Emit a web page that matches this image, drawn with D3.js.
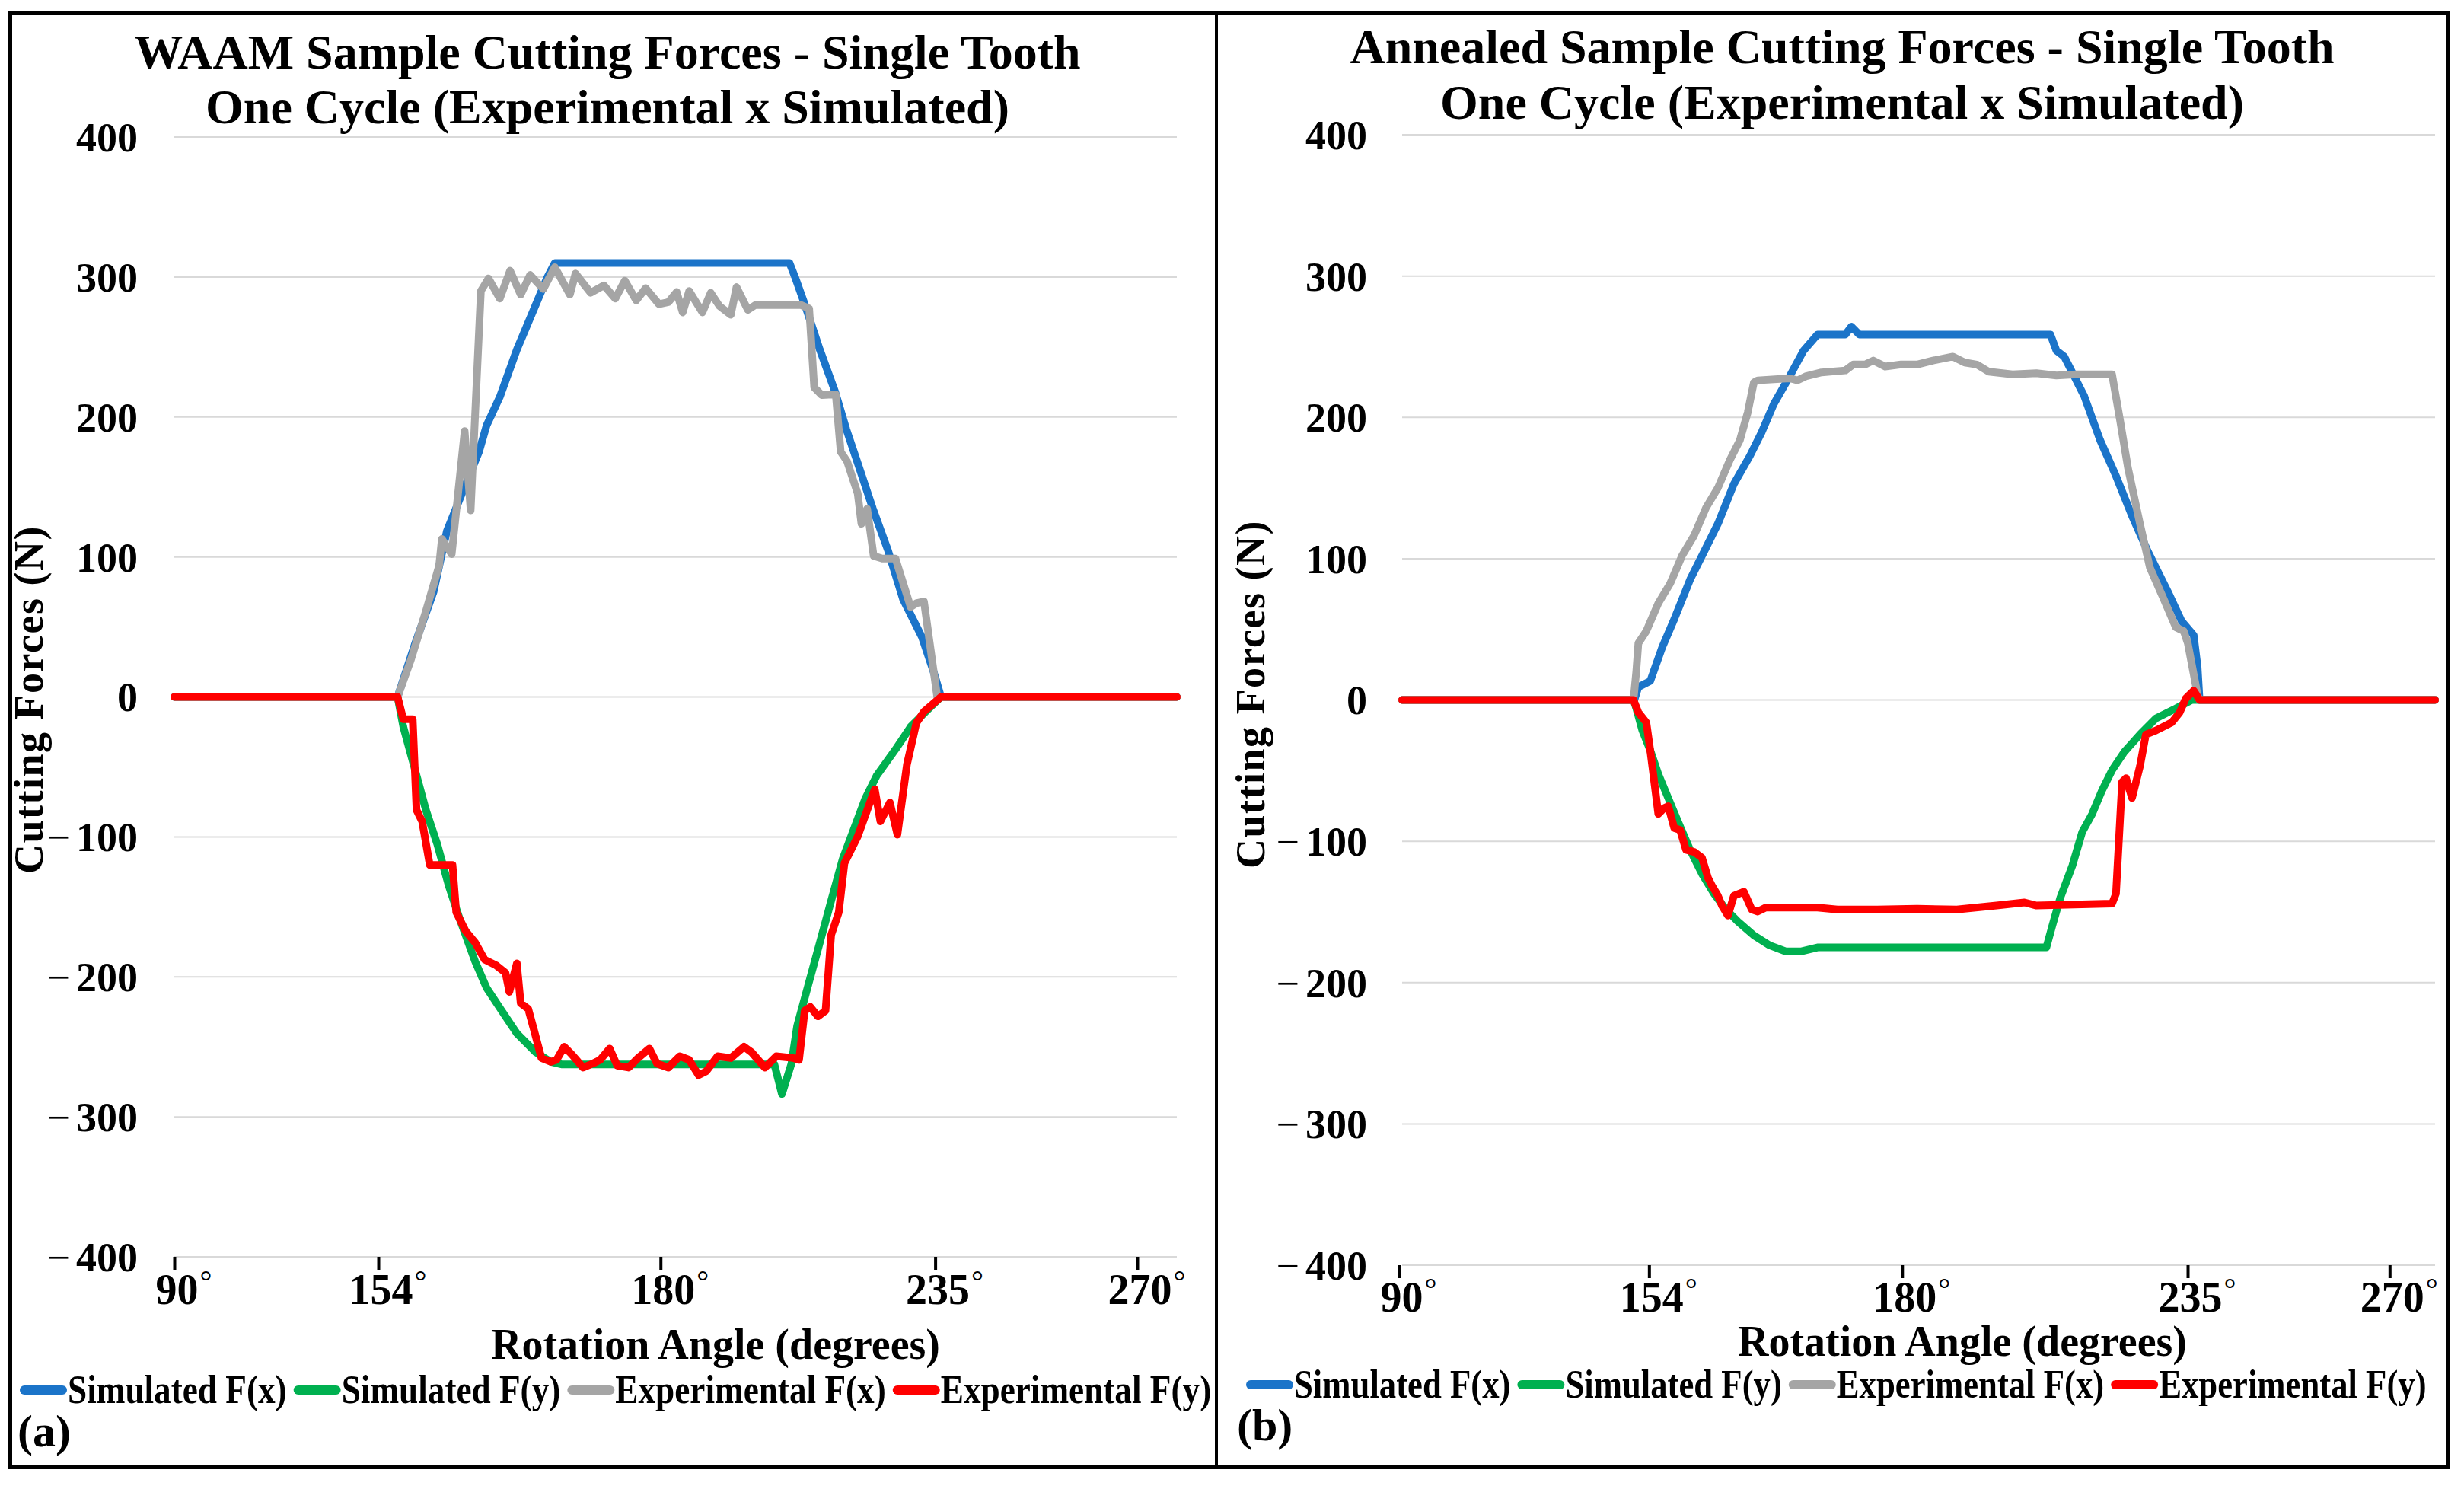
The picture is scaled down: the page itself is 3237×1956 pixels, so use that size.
<!DOCTYPE html>
<html>
<head>
<meta charset="utf-8">
<script src="https://cdn.jsdelivr.net/npm/d3@7"></script>
<style>
  html, body { margin: 0; padding: 0; background: #fff; }
  svg { display: block; font-family: "Liberation Serif", "Times New Roman", serif; font-weight: bold; }
</style>
</head>
<body>
<svg id="chart" width="3237" height="1956"></svg>
<script>
// ---- data (x = position along the sampled cycle, 0..100; y = force in N) ----
const yTicks = [-400, -300, -200, -100, 0, 100, 200, 300, 400];
const angleLabels = [90, 154, 180, 235, 270];
const angleTickPosA = [0, 20.35, 48.5, 75.9, 96.05];
const angleTickPosB = [-0.3, 23.9, 48.4, 76.05, 95.6];
const seriesNames = ["Simulated F(x)", "Simulated F(y)", "Experimental F(x)", "Experimental F(y)"];
const seriesColors = ["#1b74c9", "#00b050", "#a5a5a5", "#ff0000"];

// (a) WAAM sample
const simFxA = [[0,0],[22.27,0],[23.97,37.1],[25.86,75],[27.18,118.3],[28.69,145.3],[30.39,175.1],[31.15,194],
  [32.47,214.3],[34.17,248.1],[35.68,273.8],[37.19,299.5],[37.95,310],[61.37,310],[61.94,299.5],[62.88,280.6],
  [64.39,248.1],[65.9,218.4],[67.03,191.3],[68.17,167],[69.68,134.5],[71.19,104.7],[72.7,69.6],[74.59,42.5],
  [75.73,18.2],[76.48,0],[100,0]];
const simFyA = [[0,0],[22.27,0],[22.84,-21.3],[23.97,-51],[25.1,-80.8],[26.23,-105.2],[27.37,-134.9],[28.5,-159.3],
  [30.01,-189],[31.15,-207.9],[32.66,-224.2],[34.17,-240.4],[36.06,-253.9],[37.57,-260.7],[38.7,-262.6],
  [59.86,-262.6],[60.61,-283.7],[61.56,-262],[62.13,-235],[63.26,-205.2],[64.39,-175.5],[65.52,-145.7],
  [66.66,-116],[67.79,-94.3],[68.92,-72.7],[70.05,-56.4],[71.94,-37.5],[73.45,-21.3],[74.97,-10.5],[76.48,0],[100,0]];
const expFxA = [[0,0],[22.27,0],[23.59,26.3],[25.1,61.4],[26.42,93.9],[26.69,112.8],[27.67,102],[28.96,190],
  [29.56,133.2],[30.58,290],[31.34,299],[32.47,284.6],[33.49,304.5],[34.55,287.4],[35.49,301.5],[36.81,291.4],
  [37.95,307],[39.46,287.4],[40.02,302.5],[41.53,288.7],[42.86,294],[43.99,284.6],[44.94,297.4],[46.07,283.3],
  [47.02,292],[48.34,280.6],[49.28,282],[50.11,289.3],[50.71,274.7],[51.36,290],[52.68,274.7],[53.51,288.7],
  [54.38,279.2],[55.51,273],[56.08,292.8],[57.21,276.5],[57.97,280],[62.5,280],[63.33,277.4],[63.83,221.1],
  [64.58,215.7],[65.98,216.2],[66.47,175.1],[67.11,168.3],[68.17,145.3],[68.54,123.6],[69.11,134.5],
  [69.76,100.7],[70.62,98.8],[71.94,98.8],[73.45,64.2],[74.02,66.9],[74.78,68.2],[76.1,0],[100,0]];
const expFyA = [[0,0],[22.27,0],[22.84,-15.9],[23.78,-15.9],[24.16,-80.8],[24.72,-88.9],[25.48,-120],[27.75,-120],
  [28.12,-153.8],[29.07,-167.4],[30.01,-175.5],[30.96,-187.7],[32.09,-191.7],[33.04,-197.1],[33.42,-210.7],
  [34.17,-190.4],[34.55,-218.8],[35.3,-222.8],[35.87,-237.7],[36.62,-258],[37.57,-260.7],[38.13,-259.3],
  [38.89,-249.9],[39.64,-255.3],[40.78,-264.8],[41.72,-262],[42.48,-259.3],[43.42,-251.2],[44.18,-263.4],
  [45.31,-264.8],[46.26,-258],[47.39,-251.2],[48.15,-262],[49.28,-264.8],[50.41,-256.7],[51.36,-259.3],
  [52.3,-270.2],[53.06,-267.5],[54.19,-256.7],[55.51,-258],[56.83,-249.9],[57.59,-253.9],[58.91,-264.8],
  [60.05,-256.7],[61.75,-258],[62.32,-259.3],[62.88,-224.2],[63.45,-221.5],[64.2,-228.2],[64.96,-224.2],
  [65.52,-170.1],[66.28,-153.8],[66.85,-118.7],[68.17,-99.7],[69.87,-65.9],[70.43,-88.9],[71.38,-75.4],
  [72.13,-98.4],[73.08,-48.3],[74.02,-18.6],[74.78,-10.5],[76.48,0],[100,0]];

// (b) annealed sample
const simFxB = [[0,0],[22.48,0],[22.87,9.2],[24.02,13.4],[25.18,37.3],[26.34,57.1],[27.88,85.2],[29.42,107.8],
  [30.57,124.7],[32.12,152.9],[33.66,172.6],[34.81,189.5],[35.97,209.3],[37.51,229],[38.87,247.3],[40.21,258.6],
  [42.91,258.6],[43.49,264.2],[44.26,258.6],[62.76,258.6],[63.34,247.3],[64.1,243],[64.88,231.8],[66.04,214.9],
  [67.57,183.9],[69.11,158.5],[70.66,130.3],[72.2,105],[74.12,76.8],[75.47,55.7],[76.63,45.8],[77.01,23.3],
  [77.2,0],[100,0]];
const simFyB = [[0,0],[22.4,0],[22.67,-6],[23.25,-21.5],[24.02,-35.6],[24.8,-52.5],[25.76,-69.4],[26.72,-86.3],
  [27.88,-106.1],[29.03,-123],[30.19,-137.1],[31.35,-148.3],[32.5,-156.8],[34.05,-166.6],[35.59,-173.7],
  [37.13,-177.9],[38.67,-177.9],[40.21,-175.1],[62.37,-175.1],[62.95,-159.6],[63.72,-139.9],[64.88,-117.3],
  [65.84,-93.4],[66.8,-80.7],[67.77,-63.8],[68.73,-49.7],[69.89,-37],[71.43,-24.4],[72.97,-13.1],[74.9,-6],
  [76.44,0],[100,0]];
const expFxB = [[0,0],[22.4,0],[22.67,20.5],[22.87,40.2],[23.64,48.7],[24.8,68.4],[25.95,82.4],[27.11,102.2],
  [28.26,116.3],[29.42,136],[30.57,150.1],[31.73,169.8],[32.7,183.9],[33.46,203.6],[34.05,224.7],[34.43,226.2],
  [37.51,227.6],[38.28,226.2],[39.06,229],[40.6,231.8],[42.91,233.2],[43.68,237.4],[44.83,237.4],[45.61,240.2],
  [46.76,236],[48.3,237.4],[49.85,237.4],[51.39,240.2],[53.32,243],[54.47,238.8],[55.63,237.4],[56.79,232.3],
  [59.09,230.4],[61.41,231.2],[63.34,229.6],[65.26,230.4],[68.73,230.4],[69.5,198],[70.27,164.2],[71.43,124.7],
  [72.39,93.7],[73.74,71.2],[74.9,51.5],[75.67,48.7],[76.06,40.2],[77.01,3.6],[77.2,0],[100,0]];
const expFyB = [[0,0],[22.4,0],[22.87,-8.8],[23.64,-15.9],[24.02,-35.6],[24.41,-58.1],[24.8,-80.7],[25.37,-76.5],
  [25.76,-75.1],[26.34,-90.6],[26.91,-92],[27.49,-106.1],[28.26,-107.5],[29.03,-111.7],[29.61,-125.8],[30,-131.4],
  [30.57,-138.5],[30.96,-145.5],[31.54,-152.6],[32.12,-138.5],[33.08,-135.7],[33.85,-148.3],[34.43,-149.7],
  [35.2,-146.9],[40.21,-146.9],[42.14,-148.3],[45.99,-148.3],[49.85,-147.7],[53.7,-148.3],[57.55,-145.5],
  [60.25,-143.3],[61.41,-145.5],[68.73,-144.1],[69.11,-137.1],[69.7,-58.1],[70.08,-55.3],[70.66,-69.4],
  [71.43,-46.9],[72,-24.4],[72.97,-21.6],[74.51,-15.9],[75.28,-8.8],[75.86,1],[76.63,6.6],[77.2,0],[100,0]];

// ---- layout ----
const panels = [
  { title: ["WAAM Sample Cutting Forces - Single Tooth", "One Cycle (Experimental x Simulated)"],
    series: [simFxA, simFyA, expFxA, expFyA], ticks: angleTickPosA, tag: "(a)",
    x0: 229, x1: 1546, yTop: 180, yBot: 1651, titleX: 798, titleY: [90, 162],
    yTitleX: 56, yTitleY: 919, yLabelX: 181, tickLabelDy: 62, xTitleX: 940, xTitleY: 1785,
    legX: 26, legY: 1843, legScale: 0.87, tagX: 23, tagY: 1900 },
  { title: ["Annealed Sample Cutting Forces - Single Tooth", "One Cycle (Experimental x Simulated)"],
    series: [simFxB, simFyB, expFxB, expFyB], ticks: angleTickPosB, tag: "(b)",
    x0: 1842, x1: 3199, yTop: 177, yBot: 1662, titleX: 2420, titleY: [83, 156],
    yTitleX: 1661, yTitleY: 912, yLabelX: 1796, tickLabelDy: 61, xTitleX: 2578, xTitleY: 1781,
    legX: 1637, legY: 1836, legScale: 0.86, tagX: 1625, tagY: 1892 }
];

const svg = d3.select("#chart");
svg.append("rect").attr("width", 3237).attr("height", 1956).attr("fill", "#fff");

panels.forEach(p => {
  const x = d3.scaleLinear().domain([0, 100]).range([p.x0, p.x1]);
  const y = d3.scaleLinear().domain([-400, 400]).range([p.yBot, p.yTop]);
  const g = svg.append("g");

  // gridlines
  g.append("g").selectAll("line").data(yTicks).join("line")
    .attr("x1", p.x0).attr("x2", p.x1)
    .attr("y1", d => y(d)).attr("y2", d => y(d))
    .attr("stroke", "#d9d9d9").attr("stroke-width", 2);

  // y labels
  const yAxis = g.append("g").attr("transform", `translate(${p.yLabelX},0)`)
    .call(d3.axisLeft(y).tickValues(yTicks).tickSize(0).tickPadding(0))
    .attr("font-family", null).attr("font-size", 54);
  yAxis.select(".domain").remove();
  yAxis.selectAll(".tick text")
    .attr("fill", "#000").attr("dy", "0.34em")
    .each(function(d) {
      const t = d3.select(this).text(null);
      if (d < 0) {
        t.append("tspan").attr("font-weight", "normal").text("\u2212");
        t.append("tspan").attr("dx", 8).text(Math.abs(d));
      } else {
        t.append("tspan").text(d);
      }
    });

  // x ticks + angle labels
  const xAxis = g.append("g").attr("transform", `translate(0,${p.yBot})`)
    .call(d3.axisBottom(x).tickValues(p.ticks).tickSize(17))
    .attr("font-family", null).attr("font-size", 56);
  xAxis.select(".domain").remove();
  xAxis.selectAll(".tick line").attr("stroke", "#000").attr("stroke-width", 4);
  xAxis.selectAll(".tick text")
    .attr("fill", "#000").attr("x", 12).attr("y", p.tickLabelDy).attr("dy", 0)
    .each(function(d, i) {
      const t = d3.select(this).text(null);
      t.append("tspan").text(angleLabels[i]);
      t.append("tspan").attr("font-size", 40).attr("font-weight", "normal")
        .attr("dx", 2).attr("dy", -16).text("\u00b0");
    });

  // series lines
  const line = d3.line().x(d => x(d[0])).y(d => y(d[1]));
  p.series.forEach((s, i) => {
    g.append("path").datum(s).attr("d", line)
      .attr("fill", "none").attr("stroke", seriesColors[i]).attr("stroke-width", 10)
      .attr("stroke-linejoin", "round").attr("stroke-linecap", "round");
  });

  // titles
  p.title.forEach((t, i) => {
    g.append("text").attr("x", p.titleX).attr("y", p.titleY[i])
      .attr("text-anchor", "middle").attr("font-size", 64).text(t);
  });
  g.append("text").attr("transform", `translate(${p.yTitleX},${p.yTitleY}) rotate(-90)`)
    .attr("text-anchor", "middle").attr("font-size", 54).attr("letter-spacing", 1.5)
    .text("Cutting Forces (N)");
  g.append("text").attr("x", p.xTitleX).attr("y", p.xTitleY)
    .attr("text-anchor", "middle").attr("font-size", 56).text("Rotation Angle (degrees)");

  // legend
  let cx = p.legX;
  seriesNames.forEach((name, i) => {
    g.append("line").attr("x1", cx + 6).attr("x2", cx + 56)
      .attr("y1", p.legY - 17).attr("y2", p.legY - 17)
      .attr("stroke", seriesColors[i]).attr("stroke-width", 12).attr("stroke-linecap", "round");
    const t = g.append("text").attr("transform", `translate(${cx + 63},${p.legY}) scale(${p.legScale},1)`)
      .attr("font-size", 52).text(name);
    cx += 63 + t.node().getComputedTextLength() * p.legScale + 9;
  });

  g.append("text").attr("x", p.tagX).attr("y", p.tagY).attr("font-size", 60).text(p.tag);
});

// frame
svg.append("rect").attr("x", 13).attr("y", 17).attr("width", 3203).attr("height", 1910)
  .attr("fill", "none").attr("stroke", "#000").attr("stroke-width", 6);
svg.append("line").attr("x1", 1598).attr("x2", 1598).attr("y1", 17).attr("y2", 1927)
  .attr("stroke", "#000").attr("stroke-width", 4);
</script>
</body>
</html>
